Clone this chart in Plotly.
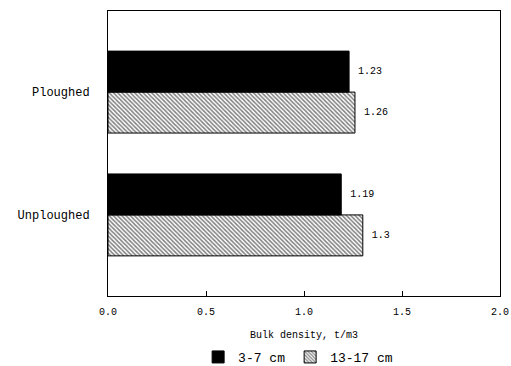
import plotly.graph_objects as go

categories = ["Unploughed", "Ploughed"]
depth_3_7 = [1.19, 1.23]
depth_13_17 = [1.3, 1.26]
series_names = ["3-7 cm", "13-17 cm"]
tick_vals = [0.0, 0.5, 1.0, 1.5, 2.0]
tick_text = ["0.0", "0.5", "1.0", "1.5", "2.0"]

font_fam = "Liberation Mono, DejaVu Sans Mono, monospace"

fig = go.Figure()
# hatched first so it sits below within each group
fig.add_trace(go.Bar(
    y=categories, x=depth_13_17, name=series_names[1], orientation="h",
    marker=dict(color="white", line=dict(color="black", width=1),
                pattern=dict(shape="\\", fgcolor="black", bgcolor="white",
                             size=3, solidity=0.5)),
    texttemplate=" %{x}", textposition="outside",
    textfont=dict(family=font_fam, size=10, color="black"),
    cliponaxis=False, legendrank=2,
))
fig.add_trace(go.Bar(
    y=categories, x=depth_3_7, name=series_names[0], orientation="h",
    marker=dict(color="black", line=dict(color="black", width=1)),
    texttemplate=" %{x}", textposition="outside",
    textfont=dict(family=font_fam, size=10, color="black"),
    cliponaxis=False, legendrank=1,
))

fig.update_layout(
    width=511, height=366,
    margin=dict(l=108, r=11, t=11, b=70, autoexpand=False),
    paper_bgcolor="white", plot_bgcolor="white",
    barmode="group", bargap=0.333, bargroupgap=0,
    font=dict(family=font_fam, size=11, color="black"),
    showlegend=True,
    legend=dict(orientation="h", x=0.485, xanchor="center", y=-0.214, yanchor="middle",
                font=dict(family=font_fam, size=13), itemwidth=30),
    xaxis=dict(range=[0, 2], tickvals=tick_vals, ticktext=tick_text,
               ticks="inside", ticklen=5, tickcolor="black",
               showline=True, linecolor="black", linewidth=1, mirror=True,
               showgrid=False, zeroline=False, automargin=False,
               ticklabelstandoff=6, tickfont=dict(family=font_fam, size=10),
               title=dict(text="Bulk density, t/m3", standoff=13,
                          font=dict(family=font_fam, size=10))),
    yaxis=dict(range=[-0.66, 1.66], showline=True, linecolor="black", linewidth=1,
               mirror=True, showgrid=False, ticks="", ticklabelstandoff=15,
               automargin=False, tickfont=dict(family=font_fam, size=12)),
)

fig.write_html("out.html", config={"displayModeBar": False},
               post_script="document.body.style.margin='0';document.body.style.overflow='hidden';")
